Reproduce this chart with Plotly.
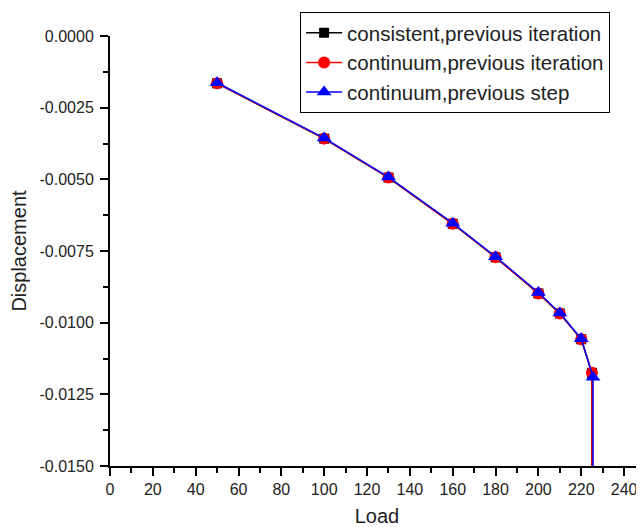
import plotly.graph_objects as go

load = [50, 100, 130, 160, 180, 200, 210, 220, 225, 225]
load_step = [50, 100, 130, 160, 180, 200, 210, 220, 225.5, 225.5]
disp_consistent = [-0.00165, -0.00358, -0.00494, -0.00655, -0.00772, -0.00898, -0.00968, -0.01058, -0.01175, -0.03]
disp_cont_iter = [-0.00165, -0.00358, -0.00494, -0.00655, -0.00772, -0.00898, -0.00968, -0.01058, -0.01175, -0.03]
disp_cont_step = [-0.00163, -0.00356, -0.00492, -0.00653, -0.00770, -0.00895, -0.00966, -0.01056, -0.01190, -0.03]

x_ticks = [0, 20, 40, 60, 80, 100, 120, 140, 160, 180, 200, 220, 240]
y_ticks = [0.0, -0.0025, -0.005, -0.0075, -0.01, -0.0125, -0.015]
y_tick_labels = ["0.0000", "-0.0025", "-0.0050", "-0.0075", "-0.0100", "-0.0125", "-0.0150"]

fig = go.Figure()
fig.add_trace(go.Scatter(x=load, y=disp_consistent, mode="lines+markers",
                         name="consistent,previous iteration",
                         line=dict(color="black", width=1.5),
                         marker=dict(symbol="square", size=10, color="black")))
fig.add_trace(go.Scatter(x=load, y=disp_cont_iter, mode="lines+markers",
                         name="continuum,previous iteration",
                         line=dict(color="red", width=1.5),
                         marker=dict(symbol="circle", size=12, color="red")))
fig.add_trace(go.Scatter(x=load_step, y=disp_cont_step, mode="lines+markers",
                         name="continuum,previous step",
                         line=dict(color="blue", width=1.5),
                         marker=dict(symbol="triangle-up", size=13, color="blue")))

font_family = "Liberation Sans, Arial, sans-serif"
# page has an 8px body margin, so the figure is sized/offset to compensate
fig.update_layout(
    width=636, height=519,
    margin=dict(l=102, r=0, t=28, b=61, autoexpand=False),
    plot_bgcolor="white", paper_bgcolor="white",
    font=dict(family=font_family, size=16, color="#222"),
    showlegend=True,
    legend=dict(x=0.356, y=1.056, xanchor="left", yanchor="top",
                bgcolor="white", bordercolor="black", borderwidth=1,
                font=dict(size=20.5, color="#222"), tracegroupgap=0,
                itemwidth=36, itemsizing="trace"),
    xaxis=dict(range=[0, 249.3], tickvals=x_ticks, ticks="outside", ticklen=8,
               tickwidth=2, tickcolor="black", showline=True, linecolor="black",
               linewidth=2, showgrid=False, zeroline=False, automargin=True,
               minor=dict(ticks="outside", dtick=10, ticklen=5, tickwidth=2, tickcolor="black"),
               title=dict(text="Load", font=dict(size=20), standoff=16),
               tickfont=dict(size=16)),
    yaxis=dict(range=[-0.015, 0.0], tickvals=y_ticks, ticktext=y_tick_labels,
               ticks="outside", ticklen=8, tickwidth=2, tickcolor="black",
               showline=True, linecolor="black", linewidth=2, showgrid=False,
               zeroline=False, automargin=True, ticklabelstandoff=3,
               minor=dict(ticks="outside", dtick=0.00125, ticklen=5, tickwidth=2, tickcolor="black"),
               title=dict(text="Displacement", font=dict(size=20), standoff=13),
               tickfont=dict(size=16)),
)

fig.write_html("out.html")
